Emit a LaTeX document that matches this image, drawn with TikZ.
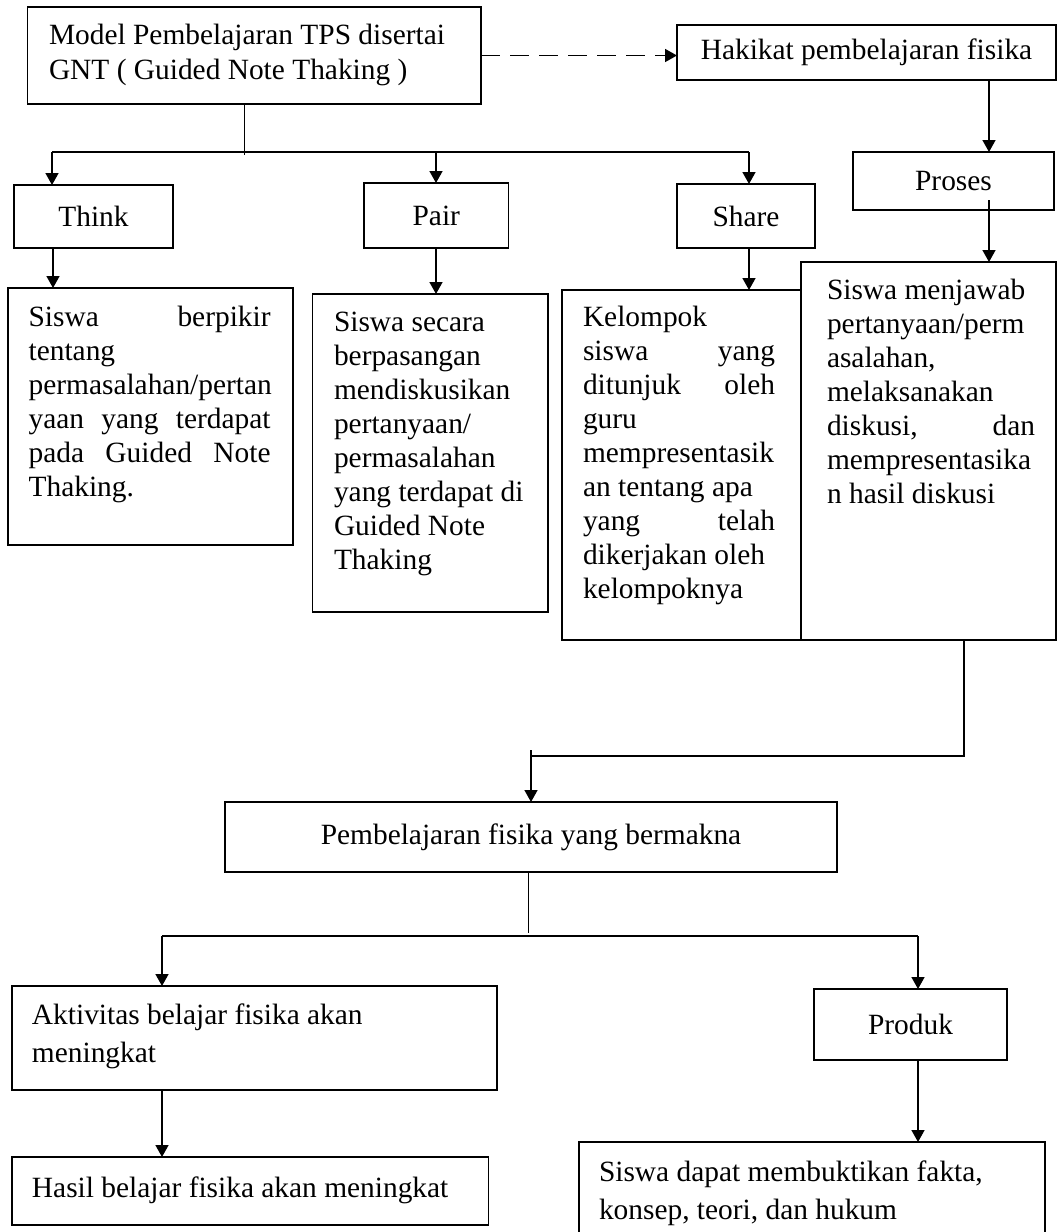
\documentclass[tikz,border=0pt]{standalone}
\usepackage{fontspec}
\setmainfont{Liberation Serif}
\usetikzlibrary{arrows.meta,calc}
\newcommand\jl[2]{\makebox[#1][s]{#2}}
\newcommand\pbox[6]{\node[bx, minimum width={(#4-#2)*0.5pt}, minimum height={(#5-#3)*0.5pt}] (#1) at ({(#2+#4)/2},{(#3+#5)/2}) {#6};}
\begin{document}
\begin{tikzpicture}[x=0.5pt,y=-0.5pt,
  bx/.style={draw, line width=0.8pt, inner sep=0pt, outer sep=0pt, font=\fontsize{14.7pt}{17pt}\selectfont},
  txt/.style={inner sep=0pt, outer sep=0pt, align=left, anchor=base west, font=\fontsize{14.7pt}{17pt}\selectfont},
  arr/.style={line width=0.8pt, -{Triangle[length=6pt,width=6.5pt]}},
  ln/.style={line width=0.8pt},
  thin/.style={line width=0.5pt}]
\useasboundingbox (0,0) rectangle (1058,1232);
% boxes
\pbox{tb}{27.5}{7}{481}{104}{}
\pbox{hk}{677}{25}{1056}{80}{Hakikat pembelajaran fisika}
\pbox{think}{14}{185}{173}{248}{Think}
\pbox{pair}{364}{183}{508.6}{248}{Pair}
\pbox{share}{677}{184}{815}{248}{Share}
\pbox{pr}{853}{152}{1054}{210}{Proses}
\pbox{thinkt}{8}{288}{293}{545}{}
\pbox{pairt}{312.5}{294}{548}{612}{}
\pbox{sharet}{562}{290}{801}{640}{}
\pbox{prt}{801}{262}{1056}{640}{}
\pbox{pb}{225}{802}{837}{872}{Pembelajaran fisika yang bermakna}
\pbox{ak}{12}{986}{497}{1090}{}
\pbox{hs}{12}{1157}{488.5}{1225}{}
\pbox{pd}{814}{989}{1007}{1060}{Produk}
\pbox{sd}{579}{1142}{1045}{1250}{}
% texts (anchored at the baseline of their last line)
\node[txt, font=\fontsize{14.7pt}{17.5pt}\selectfont] (ttb) at (49,79) {Model Pembelajaran TPS disertai\\GNT ( Guided Note Thaking )};
\node[txt] (tthink) at (28.6,496) {\jl{121pt}{Siswa berpikir}\\ tentang\\ permasalahan/pertan\\ \jl{121pt}{yaan yang terdapat}\\ \jl{121pt}{pada Guided Note}\\ Thaking.};
\node[txt] (tpair) at (334,569) {Siswa secara\\ berpasangan\\ mendiskusikan\\ pertanyaan/\\ permasalahan\\ yang terdapat di\\ Guided Note\\ Thaking};
\node[txt] (tshare) at (583,598) {Kelompok\\ \jl{96pt}{siswa yang}\\ \jl{96pt}{ditunjuk oleh}\\ guru\\ mempresentasik\\ an tentang apa\\ \jl{96pt}{yang telah}\\ dikerjakan oleh\\ kelompoknya};
\node[txt] (tpr) at (827,503) {Siswa menjawab\\ pertanyaan/perm\\ asalahan,\\ melaksanakan\\ \jl{104pt}{diskusi, dan}\\ mempresentasika\\ n hasil diskusi};
\node[txt, font=\fontsize{14.7pt}{19pt}\selectfont] (tak) at (32,1062) {Aktivitas belajar fisika akan\\ meningkat};
\node[txt] (ths) at (32,1197) {Hasil belajar fisika akan meningkat};
\node[txt, font=\fontsize{14.7pt}{19pt}\selectfont] (tsd) at (599,1219) {Siswa dapat membuktikan fakta,\\ konsep, teori, dan hukum};
% coordinates
\coordinate (c1) at (244.5,155);
\coordinate (h1) at (52,152);
\coordinate (h3) at (436,152);
\coordinate (h2) at (749,152);
\coordinate (x1) at (53,0);
\coordinate (x2) at (989,0);
\coordinate (x3) at (964,756);
\coordinate (x4) at (531,756);
\coordinate (x5) at (528,933);
\coordinate (h4) at (162,936);
\coordinate (h5) at (918,936);
% connectors
\draw[arr, dash pattern=on 9.5pt off 5pt] (tb.east) -- (tb.east -| hk.west);
\draw[thin] (tb.south -| c1) -- (c1);
\draw[ln] (h1) -- (h2);
\draw[arr] (h1) -- (h1 |- think.north);
\draw[arr] (h3) -- (h3 |- pair.north);
\draw[arr] (h2) -- (h2 |- share.north);
\draw[arr] (think.south -| x1) -- (thinkt.north -| x1);
\draw[arr] (pair.south -| h3) -- (pairt.north -| h3);
\draw[arr] (share.south -| h2) -- (sharet.north -| h2);
\draw[arr] (hk.south -| x2) -- (pr.north -| x2);
\draw[arr] ($(pr.south -| x2)+(0,-10)$) -- (prt.north -| x2);
\draw[ln] (prt.south -| x3) -- (x3) -- (x4);
\draw[arr] ($(x4)+(0,-6)$) -- (pb.north -| x4);
\draw[thin] (pb.south -| x5) -- (x5);
\draw[ln] (h4) -- (h5);
\draw[arr] (h4) -- (ak.north -| h4);
\draw[arr] (h5) -- (pd.north -| h5);
\draw[arr] (ak.south -| h4) -- (hs.north -| h4);
\draw[arr] (pd.south -| h5) -- (sd.north -| h5);
\end{tikzpicture}
\end{document}
